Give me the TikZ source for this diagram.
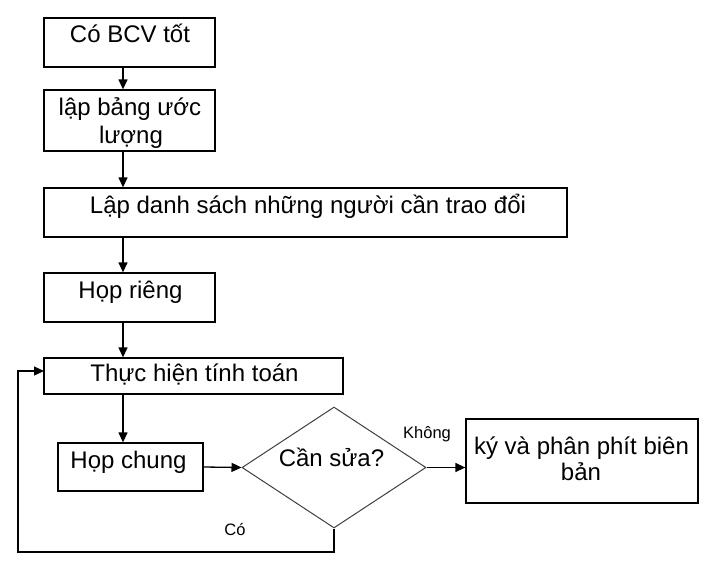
\documentclass[tikz,border=0pt]{standalone}
\usepackage{fontspec}
\setmainfont{Liberation Sans}
\usetikzlibrary{arrows.meta,shapes.geometric}
\begin{document}
\begin{tikzpicture}[x=1pt,y=-1pt,
  box/.style={draw,line width=1.3pt,inner sep=0pt},
  txt/.style={anchor=base,inner sep=0pt,font=\fontsize{24}{28}\selectfont},
  small/.style={anchor=base,inner sep=0pt,font=\fontsize{16.5}{20}\selectfont},
  conn/.style={line width=1.3pt,-{Triangle[length=10pt,width=9pt]}},
  line/.style={line width=1.3pt}]
\useasboundingbox (0,0) rectangle (713,571);
\fill[white] (0,0) rectangle (713,571);
% boxes
\node[box,minimum width=171pt,minimum height=49pt] (b1) at (129.5,42.5) {};
\node[box,minimum width=171pt,minimum height=61pt] (b2) at (129.5,120.5) {};
\node[box,minimum width=523pt,minimum height=49pt] (b3) at (305.5,212.5) {};
\node[box,minimum width=171pt,minimum height=49pt] (b4) at (129.5,297.5) {};
\node[box,minimum width=299pt,minimum height=36pt] (b5) at (193.5,376) {};
\node[box,minimum width=145pt,minimum height=48pt] (b6) at (130.5,467) {};
\node[diamond,draw=black!75,line width=1pt,inner sep=0pt,minimum width=184pt,minimum height=121pt] (d) at (334,467.5) {};
\node[box,minimum width=232pt,minimum height=84pt] (b7) at (582,461) {};
% texts
\node[txt] (t1) at (130,42.7) {Có BCV tốt};
\node[txt] (t2a) at (130,115) {lập bảng ước};
\node[txt] (t2b) at (131,143) {lượng};
\node[txt] (t3) at (308,213.3) {Lập danh sách những người cần trao đổi};
\node[txt] (t4) at (130.5,298) {Họp riêng};
\node[txt] (t5) at (194.5,381.7) {Thực hiện tính toán};
\node[txt] (t6) at (128.5,468.3) {Họp chung};
\node[txt] (td) at (331.5,466.7) {Cần sửa?};
\node[txt] (t7a) at (581.5,454) {ký và phân phít biên};
\node[txt] (t7b) at (581,480.7) {bản};
\node[small] (lk) at (427,438.3) {Không};
\node[small] (lc) at (235,535) {Có};
% connectors
\coordinate (ax) at (123,0);
\draw[conn] (b1.south -| ax) -- (b2.north -| ax);
\draw[conn] (b2.south -| ax) -- (b3.north -| ax);
\draw[conn] (b3.south -| ax) -- (b4.north -| ax);
\draw[conn] (b4.south -| ax) -- (b5.north -| ax);
\draw[conn] (b5.south -| ax) -- (b6.north -| ax);
\draw[conn] (b6.east) -- (d.west);
\draw[conn] (d.east) -- (d.east -| b7.west);
\coordinate (lp) at (18,552);
\coordinate (le) at (44,371);
\draw[conn] (d.south) |- (lp) |- (le);
\end{tikzpicture}
\end{document}
